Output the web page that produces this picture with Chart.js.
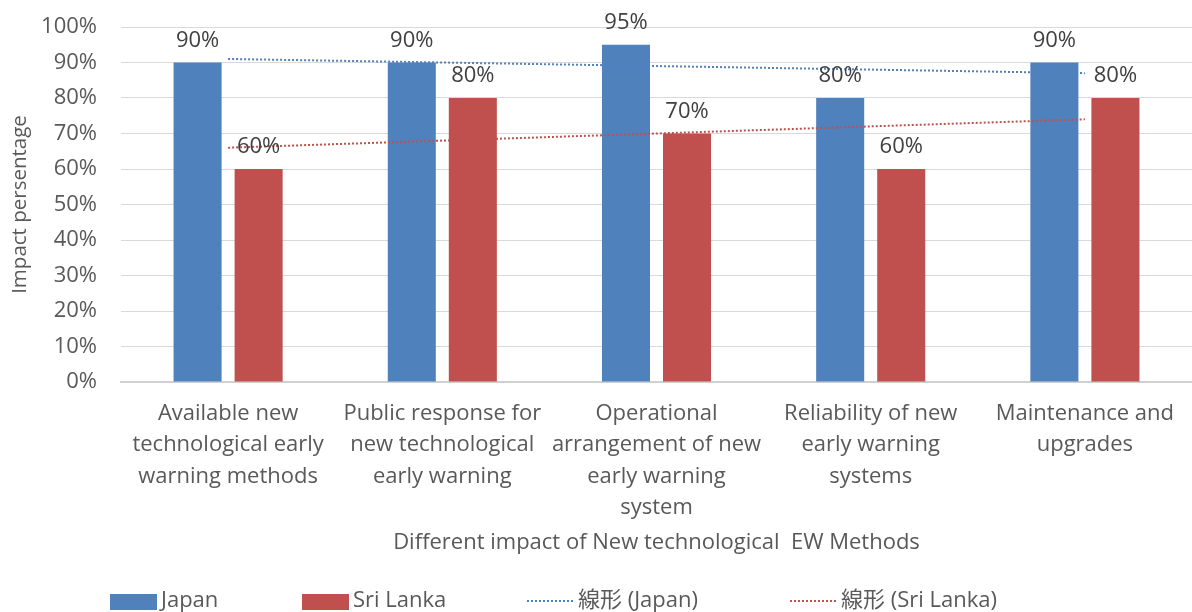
<!DOCTYPE html>
<html>
<head>
<meta charset="utf-8">
<script src="https://cdn.jsdelivr.net/npm/chart.js@4/dist/chart.umd.min.js"></script>
<style>
  html, body { margin: 0; padding: 0; background: #ffffff; }
  #wrap { width: 1192px; height: 612px; position: relative; }
</style>
</head>
<body>
<div id="wrap"><canvas id="c" width="1192" height="612"></canvas></div>
<script>
// Categories (multi-line tick labels)
const categories = [
  ["Available new", "technological early", "warning methods"],
  ["Public response for", "new technological", "early warning"],
  ["Operational", "arrangement of new", "early warning", "system"],
  ["Reliability of new", "early warning", "systems"],
  ["Maintenance and", "upgrades"]
];

// Impact percentage per method
const japanValues = [90, 90, 95, 80, 90];
const sriLankaValues = [60, 80, 70, 60, 80];

// Linear trend lines: values at first and last category
const japanTrend = [91, null, null, null, 87];
const sriLankaTrend = [66, null, null, null, 74];

const yTicks = [0, 10, 20, 30, 40, 50, 60, 70, 80, 90, 100];

const seriesNames = ["Japan", "Sri Lanka", "線形 (Japan)", "線形 (Sri Lanka)"];
const BLUE = "#4F81BD";
const RED = "#C0504D";
const FONT = "'Open Sans', 'Noto Sans', 'Noto Sans CJK JP', sans-serif";
const TEXT = "#595959";
const FS = 22;

// Percent labels above each bar
const barLabels = {
  id: "barLabels",
  afterDatasetsDraw(chart) {
    const ctx = chart.ctx;
    ctx.save();
    ctx.font = FS + "px " + FONT;
    ctx.fillStyle = "#404040";
    ctx.textAlign = "center";
    ctx.textBaseline = "middle";
    chart.data.datasets.forEach((ds, i) => {
      if (ds.type !== "bar") return;
      const meta = chart.getDatasetMeta(i);
      meta.data.forEach((el, j) => {
        ctx.fillText(ds.data[j] + "%", el.x, el.y - 22);
      });
    });
    ctx.restore();
  }
};

// Legend row along the bottom edge; each entry starts at its own column
const legendColumns = [110, 302, 527, 790];
const bottomLegend = {
  id: "bottomLegend",
  afterDraw(chart) {
    const ctx = chart.ctx;
    ctx.save();
    ctx.font = FS + "px " + FONT;
    ctx.textBaseline = "middle";
    ctx.textAlign = "left";
    const y = 601;
    chart.data.datasets.forEach((ds, i) => {
      const x = legendColumns[i];
      if (ds.type === "bar") {
        ctx.fillStyle = ds.backgroundColor;
        ctx.fillRect(x, y - 7, 47, 16);
      } else {
        ctx.strokeStyle = ds.borderColor;
        ctx.lineWidth = 2;
        ctx.setLineDash([2, 2]);
        ctx.beginPath();
        ctx.moveTo(x, y);
        ctx.lineTo(x + 46, y);
        ctx.stroke();
        ctx.setLineDash([]);
      }
      ctx.fillStyle = TEXT;
      ctx.fillText(ds.label, x + 51, y);
    });
    ctx.restore();
  }
};

new Chart(document.getElementById("c"), {
  data: {
    labels: categories,
    datasets: [
      { type: "bar", label: seriesNames[0], data: japanValues, backgroundColor: BLUE, order: 1,
        categoryPercentage: 0.57, barPercentage: 0.787 },
      { type: "bar", label: seriesNames[1], data: sriLankaValues, backgroundColor: RED, order: 1,
        categoryPercentage: 0.57, barPercentage: 0.787 },
      { type: "line", label: seriesNames[2], data: japanTrend, borderColor: BLUE, borderWidth: 2,
        borderDash: [2, 2], pointRadius: 0, spanGaps: true, fill: false, order: 0 },
      { type: "line", label: seriesNames[3], data: sriLankaTrend, borderColor: RED, borderWidth: 2,
        borderDash: [2, 2], pointRadius: 0, spanGaps: true, fill: false, order: 0 }
    ]
  },
  options: {
    responsive: false,
    animation: false,
    layout: { padding: { top: 27, right: 0, bottom: 50, left: 0 } },
    plugins: {
      legend: { display: false },
      tooltip: { enabled: false }
    },
    scales: {
      x: {
        grid: { display: false, drawTicks: false },
        border: { display: true, color: "#d0d0d0", width: 2 },
        ticks: {
          color: TEXT, font: { family: FONT, size: FS, lineHeight: 1.43 },
          maxRotation: 0, autoSkip: false, padding: 16
        },
        title: {
          display: true, text: "Different impact of New technological  EW Methods",
          color: TEXT, font: { family: FONT, size: FS }, padding: { top: 0, bottom: 6 }
        },
        afterFit(scale) { scale.height = 180; }
      },
      y: {
        min: 0, max: 100,
        afterBuildTicks(scale) { scale.ticks = yTicks.map(v => ({ value: v })); },
        grid: { color: "#d9d9d9", lineWidth: 1, drawTicks: false },
        border: { display: false },
        ticks: {
          color: TEXT, font: { family: FONT, size: FS }, padding: 24,
          callback: (v) => v + "%"
        },
        title: {
          display: true, text: "Impact persentage",
          color: TEXT, font: { family: FONT, size: 20.5 }, padding: { top: 8, bottom: 0 }
        },
        afterFit(scale) {
          scale.width = 121;
          scale.paddingTop = 0;
          scale.paddingBottom = 0;
        }
      }
    }
  },
  plugins: [barLabels, bottomLegend]
});
</script>
</body>
</html>
